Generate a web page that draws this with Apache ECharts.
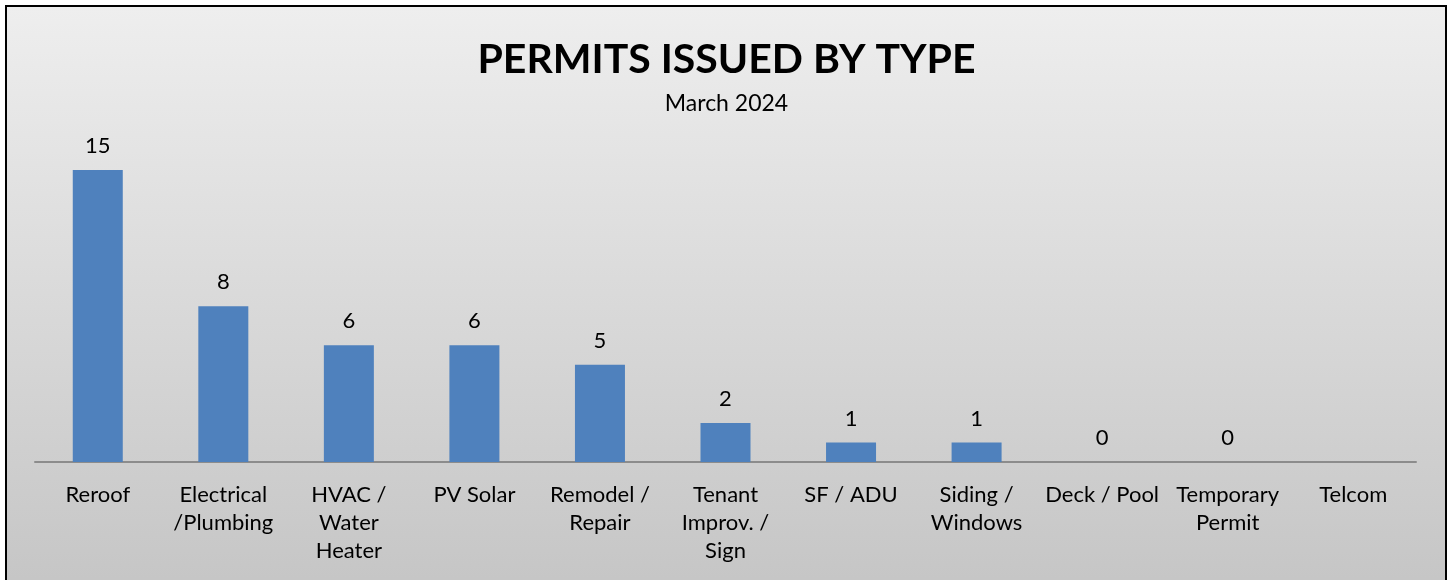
<!DOCTYPE html>
<html>
<head>
<meta charset="utf-8">
<script src="https://cdn.jsdelivr.net/npm/echarts@6/dist/echarts.min.js"></script>
<style>
  html,body{margin:0;padding:0;background:#fff;}
  #frame{position:absolute;left:5px;top:5px;width:1438px;height:600px;border:2px solid #000;
    background:linear-gradient(to bottom,#eeeeee 0%,#c4c4c4 100%);}
  #main{position:absolute;left:0;top:0;width:1453px;height:580px;}
</style>
</head>
<body>
<div id="frame"></div>
<div id="main"></div>
<script>
// 类别（轴标签）
var categories = ['Reroof', 'Electrical\n/Plumbing', 'HVAC /\nWater\nHeater', 'PV Solar', 'Remodel /\nRepair',
  'Tenant\nImprov. /\nSign', 'SF / ADU', 'Siding /\nWindows', 'Deck / Pool', 'Temporary\nPermit', 'Telcom'];
// 许可数量，Telcom 无数据
var permits = [15, 8, 6, 6, 5, 2, 1, 1, 0, 0, null];
var titleText = 'PERMITS ISSUED BY TYPE';
var subText = 'March 2024';

var font = 'Lato, "Open Sans", sans-serif';
var chart = echarts.init(document.getElementById('main'));
var option = {
  backgroundColor: 'transparent',
  animation: false,
  title: {
    text: titleText,
    subtext: subText,
    left: 'center',
    top: 34.5,
    itemGap: 12,
    textStyle: {fontFamily: font, fontSize: 41, fontWeight: 'bold', color: '#000'},
    subtextStyle: {fontFamily: font, fontSize: 23, color: '#000'}
  },
  grid: {left: 35, right: 37, top: 150.5, bottom: 118},
  xAxis: {
    type: 'category',
    data: categories,
    axisLine: {lineStyle: {color: '#8c8c8c', width: 2}},
    axisTick: {show: false},
    axisLabel: {fontFamily: font, fontSize: 22, color: '#000', lineHeight: 28, margin: 19, interval: 0}
  },
  yAxis: {
    type: 'value',
    min: 0, max: 16,
    show: false,
    splitLine: {show: false}
  },
  series: [{
    type: 'bar',
    data: permits,
    barWidth: 50,
    itemStyle: {color: '#4f81bd'},
    label: {show: true, position: 'top', distance: 13, fontFamily: font, fontSize: 22, color: '#000'}
  }]
};
chart.setOption(option);
</script>
</body>
</html>
